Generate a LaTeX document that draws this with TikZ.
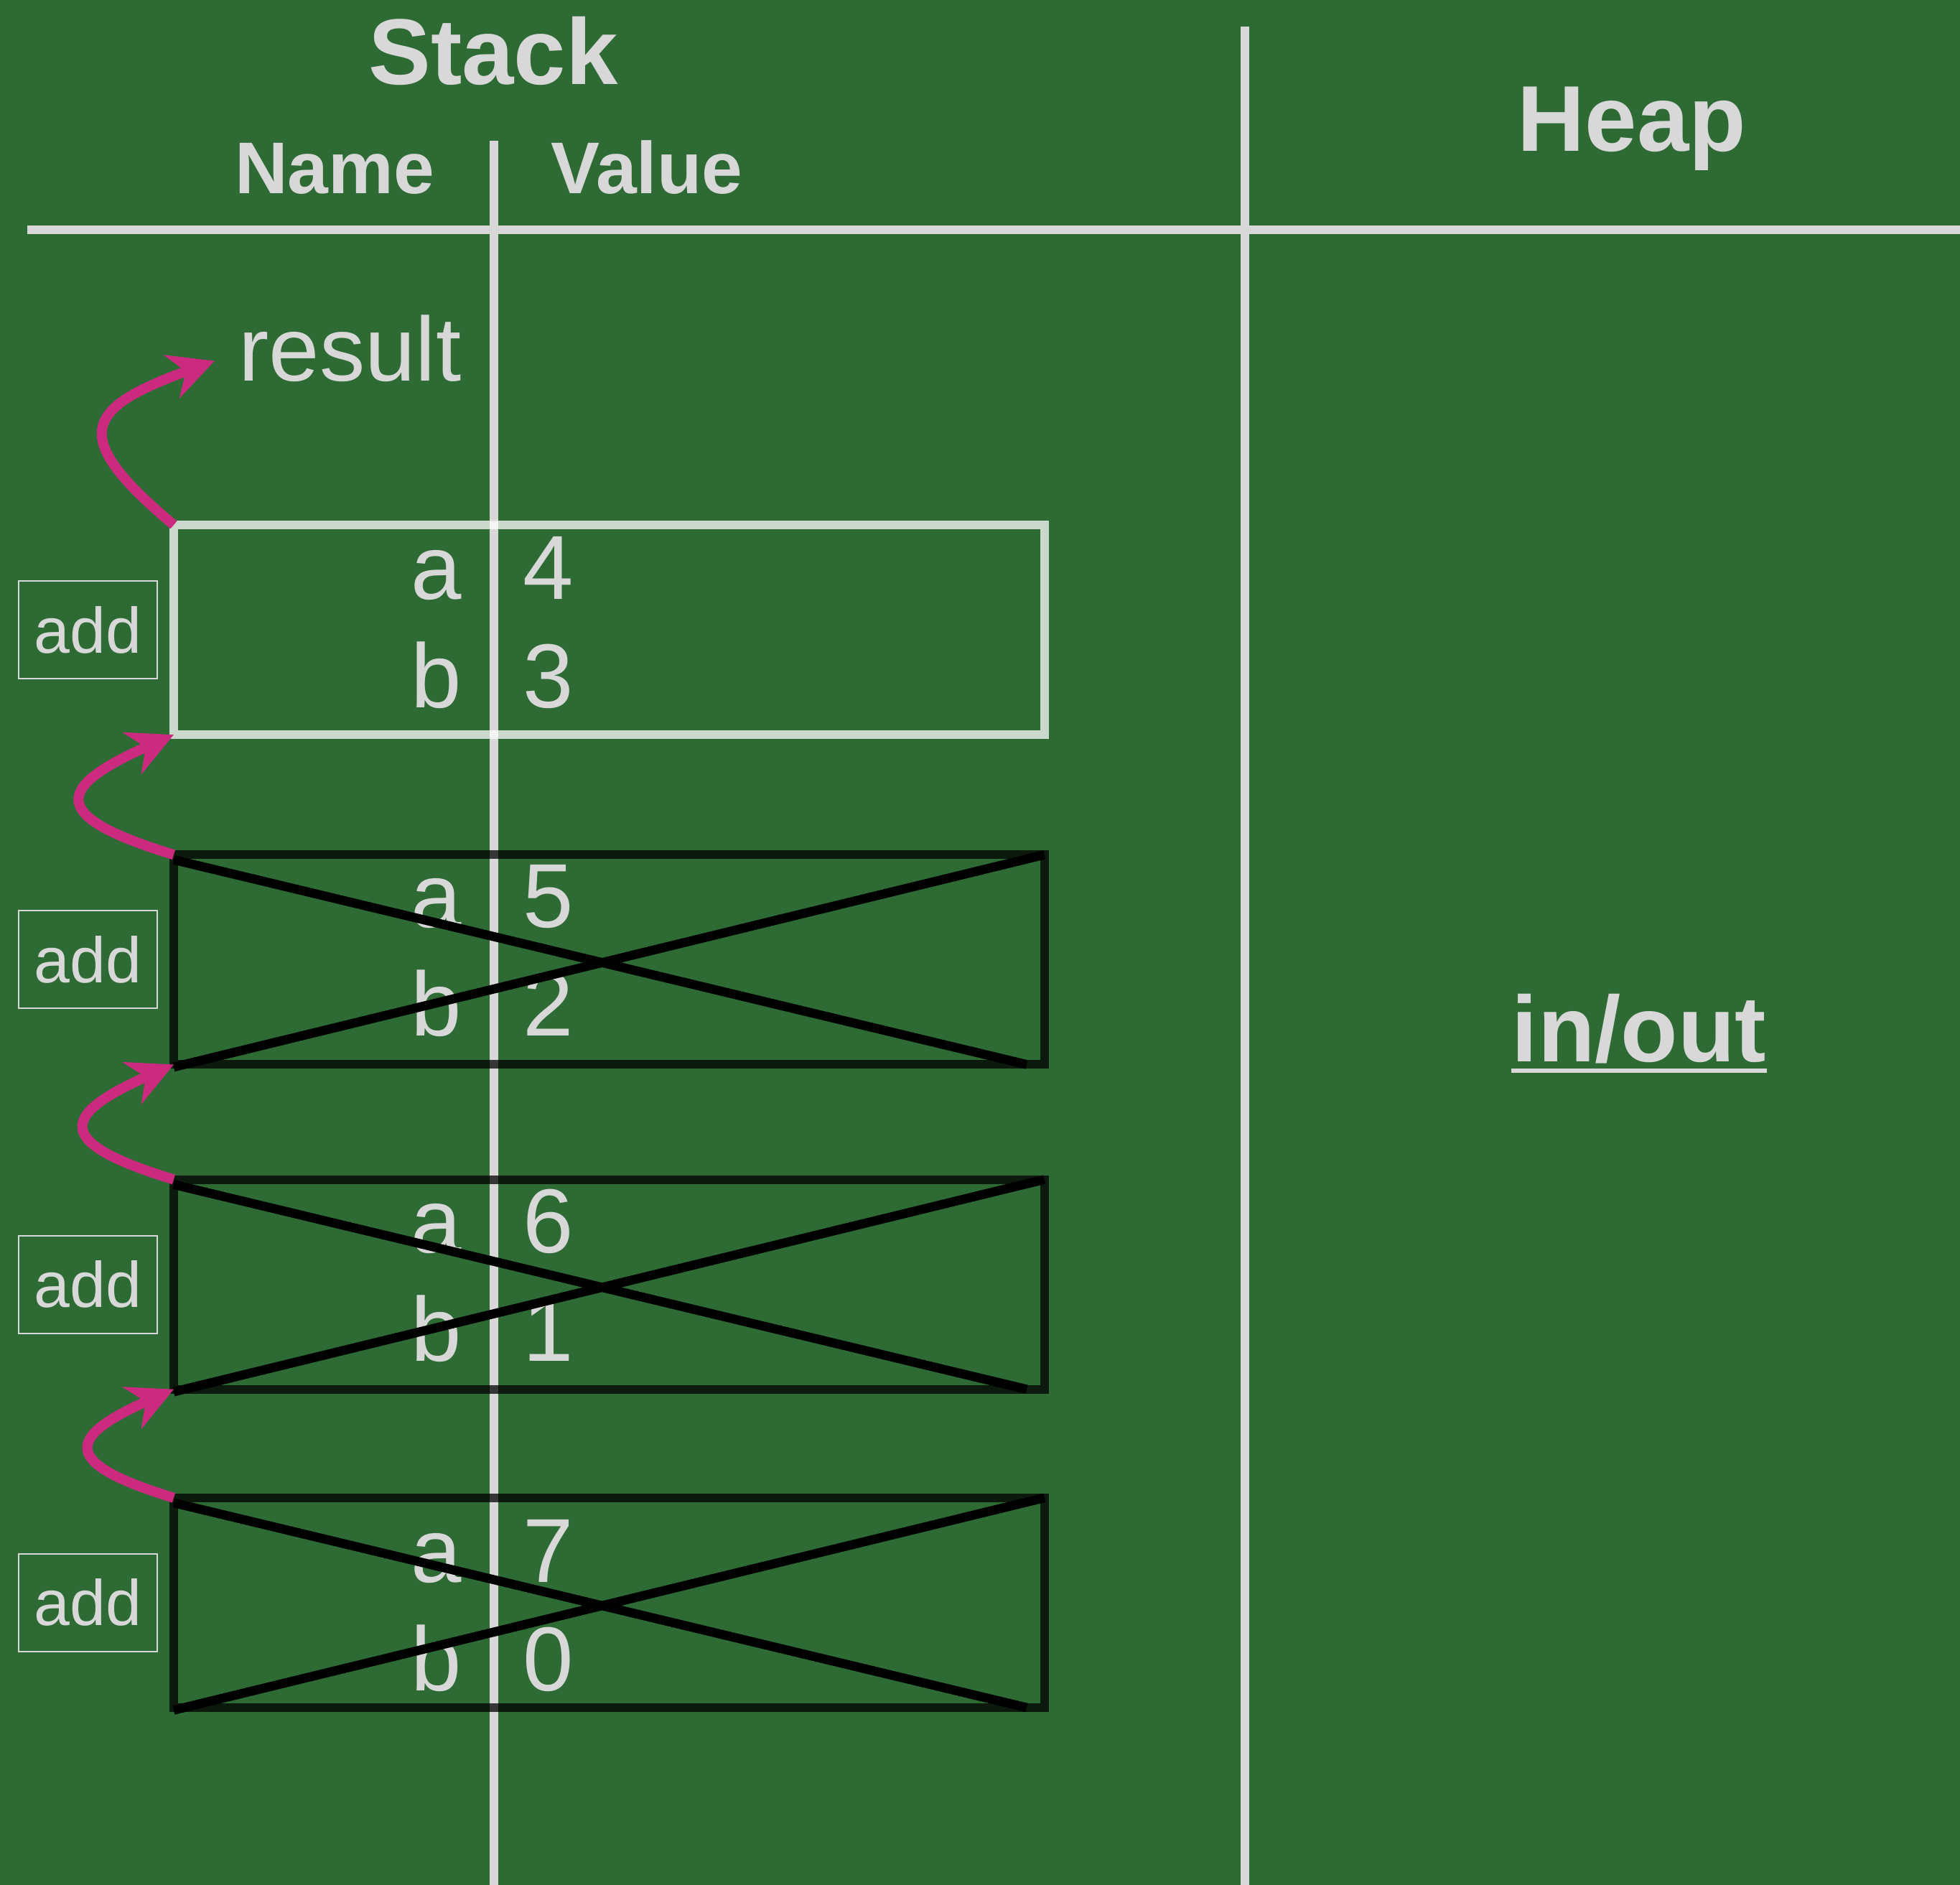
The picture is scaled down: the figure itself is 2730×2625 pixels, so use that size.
\documentclass[tikz,border=0pt]{standalone}
\usepackage{fontspec}
\setmainfont{Liberation Sans}
\usepackage{tikz}
\usetikzlibrary{arrows.meta,positioning}
\definecolor{board}{HTML}{2E6A34}
\definecolor{chalk}{HTML}{D8D8D8}
\definecolor{hop}{HTML}{CB2A7F}
\tikzset{
  hdr/.style={inner sep=0pt, text=chalk, font=\bfseries\fontsize{37}{44}\selectfont},
  col/.style={inner sep=0pt, text=chalk, font=\bfseries\fontsize{29}{35}\selectfont},
  nm/.style={inner sep=0pt, text=chalk, anchor=base east,
             font=\fontsize{36}{43}\selectfont},
  vl/.style={nm, anchor=base west},
  rl/.style={draw=chalk, line width=3.5pt},
  % call frames
  frm/.style={draw=white, draw opacity=0.75, line width=3.4pt, outer sep=0pt,
              inner sep=0pt, minimum width=12.12cm, minimum height=2.92cm},
  deadfrm/.style={frm, draw=black},
  fn/.style={draw=chalk, line width=0.6pt, text=chalk, inner sep=0pt,
             minimum width=1.93cm, minimum height=1.36cm,
             font=\fontsize{25.5}{30}\selectfont},
  xl/.style={draw=black, line width=3.6pt},
  ar/.style={-{Stealth[length=18pt,width=18pt]}, line width=4pt, draw=hop},
}
\begin{document}
\begin{tikzpicture}[x=0.01cm, y=-0.01cm]
  \useasboundingbox (0,0) rectangle (2730,2625);
  \fill[board] (0,0) rectangle (2730,2625);

  % --- headings ---
  \node[hdr, anchor=base] (stk) at (687,118) {Stack};
  \node[hdr, anchor=base] (hp) at (2273,211) {Heap};
  \node[col, anchor=base] (nmh) at (466,270) {Name};
  \node[col, anchor=base] (vlh) at (901,270) {Value};

  % --- rules ---
  \draw[rl] (38,320) -- (2730,320);
  \draw[rl] (688,196) -- (688,2625);
  \draw[rl] (1734,37) -- (1734,2625);

  \node[nm] (res) at (643,531) {result};

  % --- frames ---
  \node[frm, anchor=north west] (f1) at (242,731) {};
  \node[deadfrm, below=1.67cm of f1] (f2) {};
  \node[deadfrm, below=1.6cm of f2] (f3) {};
  \node[deadfrm, below=1.51cm of f3] (f4) {};

  \node[fn, left=0.22cm of f1] (c1) {add};
  \node[fn, left=0.22cm of f2] (c2) {add};
  \node[fn, left=0.22cm of f3] (c3) {add};
  \node[fn, left=0.22cm of f4] (c4) {add};

  \node[nm] (a1) at (644,835) {a};  \node[vl] (va1) at (728,835) {4};
  \node[nm] (b1) at (644,986) {b};  \node[vl] (vb1) at (728,986) {3};
  \node[nm] (a2) at (644,1291) {a}; \node[vl] (va2) at (728,1291) {5};
  \node[nm] (b2) at (644,1442) {b}; \node[vl] (vb2) at (728,1442) {2};
  \node[nm] (a3) at (644,1744) {a}; \node[vl] (va3) at (728,1744) {6};
  \node[nm] (b3) at (644,1895) {b}; \node[vl] (vb3) at (728,1895) {1};
  \node[nm] (a4) at (644,2203) {a}; \node[vl] (va4) at (728,2203) {7};
  \node[nm] (b4) at (644,2354) {b}; \node[vl] (vb4) at (728,2354) {0};

  % --- popped frames ---
  \foreach \f in {f2,f3,f4} {
    \draw[xl] ([yshift=-2pt]\f.north west) -- ([xshift=-7pt]\f.south east);
    \draw[xl] ([yshift=-1pt]\f.south west) -- (\f.north east);
  }

  % --- returns ---
  \draw[ar] (f1.north west) to[out=140,in=200,looseness=2.1]
            ([xshift=-9.4pt,yshift=-4.8pt]res.west);
  \foreach \lo/\up in {f2/f1,f3/f2,f4/f3}
    \draw[ar] (\lo.north west) to[out=163,in=204,looseness=2.8] (\up.south west);

  % --- heap ---
  \node[hdr, anchor=base] (io) at (2283,1478) {in/out};
  \draw[draw=chalk, line width=1.7pt]
    ([yshift=-3.7pt]io.base west) -- ([yshift=-3.7pt]io.base east);
\end{tikzpicture}
\end{document}
